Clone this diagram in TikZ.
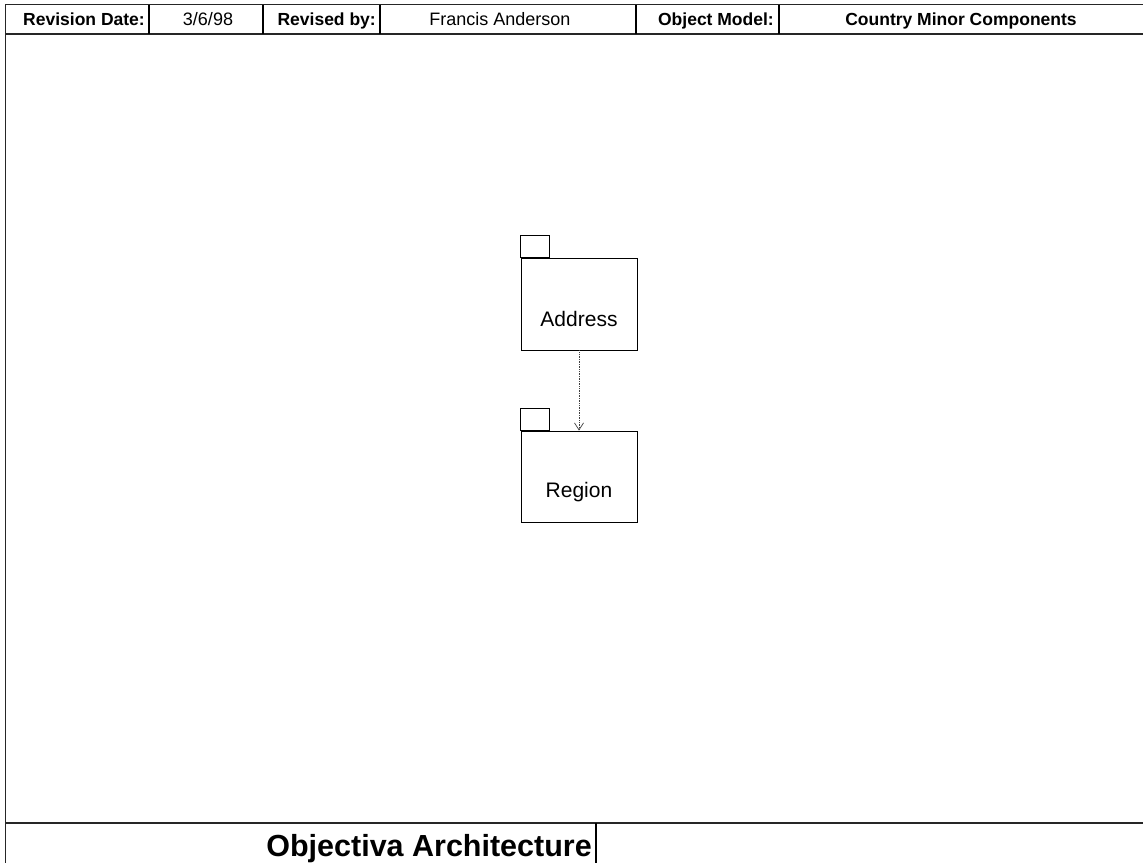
\documentclass[tikz,border=0pt]{standalone}
\usepackage{fontspec}
\setmainfont{Liberation Sans}
\usetikzlibrary{arrows.meta}
\begin{document}
\begin{tikzpicture}[x=1pt,y=-1pt,
  frameline/.style={line width=1.4pt,draw=black!85},
  hdrkey/.style={font=\fontsize{17.5}{19}\selectfont\bfseries,anchor=base east,inner sep=0pt},
  hdrval/.style={font=\fontsize{18}{20}\selectfont,anchor=base,inner sep=0pt},
  hdrbold/.style={font=\fontsize{17.5}{19}\selectfont\bfseries,anchor=base,inner sep=0pt},
  pkg/.style={draw,line width=0.9pt,minimum width=116pt,minimum height=92pt,inner sep=0pt},
  pkglabel/.style={font=\fontsize{21}{23}\selectfont,anchor=base,inner sep=0pt},
  dep/.style={densely dotted,line width=0.7pt,draw=black!75,-{Straight Barb[length=7pt,width=9pt,line width=0.7pt]}}]
\useasboundingbox (0,0) rectangle (1143,863);
\fill[white] (0,0) rectangle (1143,863);

% outer frame and title block
\draw[frameline] (1143,4.5) -- (5.5,4.5) -- (5.5,863);
\draw[frameline] (5.5,34) -- (1143,34);
\draw[frameline] (5.5,823) -- (1143,823);
\foreach \x in {149,263,380,636,779}
  \draw[line width=1.1pt] (\x,4.5) -- (\x,34);
\draw[line width=1.1pt] (596,823) -- (596,863);

% header texts
\node[hdrkey] (revdatekey) at (145,25) {Revision Date:};
\node[hdrval] (revdate) at (208,25) {3/6/98};
\node[hdrkey] (revbykey) at (376,25) {Revised by:};
\node[hdrval] (revby) at (500,25) {Francis Anderson};
\node[hdrkey] (modelkey) at (774,25) {Object Model:};
\node[hdrbold] (model) at (961,25) {Country Minor Components};

% footer title
\node[font=\fontsize{30.5}{33}\selectfont\bfseries,anchor=base east,inner sep=0pt] (title) at (592,856) {Objectiva Architecture};

% packages
\node[pkg] (addr) at (579,304) {};
\draw[line width=0.9pt] (addr.north west) rectangle ++(29,-22);
\node[pkglabel] (addrlabel) at (579,326) {Address};
\node[pkg,minimum height=91pt] (reg) at (579,476.5) {};
\draw[line width=0.9pt] (reg.north west) rectangle ++(29,-22);
\node[pkglabel] (reglabel) at (579,497.5) {Region};

% dependency
\draw[dep] (addr.south) -- (reg.north);
\end{tikzpicture}
\end{document}
